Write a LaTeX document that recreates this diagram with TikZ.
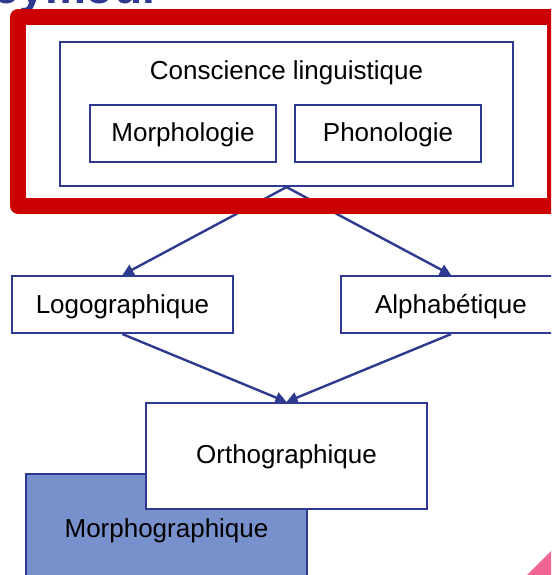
\documentclass[tikz,border=0pt]{standalone}
\usepackage{fontspec}
\setmainfont{Liberation Sans}
\usetikzlibrary{arrows.meta}
\definecolor{dblue}{HTML}{2E3A8F}
\definecolor{rred}{HTML}{CC0000}
\definecolor{mfill}{HTML}{7890CC}
\definecolor{pinkc}{HTML}{F06592}
\begin{document}
\begin{tikzpicture}[x=1pt,y=-1pt,
  box/.style={draw=dblue,line width=2.2pt,fill=white,rectangle,inner sep=0pt},
  lbl/.style={anchor=base,inner sep=0pt,text=black,font=\fontsize{26}{30}\selectfont},
  conn/.style={draw=dblue,line width=2.4pt,-{Triangle[length=11pt,width=11pt]}}]
\useasboundingbox (0,0) rectangle (551,575);
\clip (0,0) rectangle (551,575);
% title fragment
\node[anchor=base west,inner sep=0pt,text=dblue,font=\fontsize{46}{50}\selectfont\bfseries] (title) at (-37,3.5) {Seymour};
% boxes
\node[box,minimum width=453pt,minimum height=144pt] (cl) at (286.5,114) {};
\node[lbl] (cltxt) at (286.5,80) {Conscience linguistique};
\node[box,minimum width=186pt,minimum height=57pt] (mo) at (183,133.5) {};
\node[lbl] (motxt) at (183,142) {Morphologie};
\node[box,minimum width=186pt,minimum height=57pt] (ph) at (388,133.5) {};
\node[lbl] (phtxt) at (388,142) {Phonologie};
\node[box,minimum width=221pt,minimum height=57pt] (lg) at (122.5,304.5) {};
\node[lbl] (lgtxt) at (122.5,313) {Logographique};
\node[box,minimum width=220pt,minimum height=57pt] (al) at (451,304.5) {};
\node[lbl] (altxt) at (451,313) {Alphabétique};
% connectors
\draw[conn] (cl.south) -- (lg.north);
\draw[conn] (cl.south) -- (al.north);
% red frame (drawn over the connectors)
\draw[rred,line width=16pt,line join=round] (18,17.25) rectangle (555,205.5);
% lower boxes
\node[box,fill=mfill,minimum width=281pt,minimum height=106pt] (mg) at (166.5,527) {};
\node[lbl] (mgtxt) at (166.5,537) {Morphographique};
\node[box,minimum width=281pt,minimum height=106pt] (og) at (286.5,456) {};
\node[lbl] (ogtxt) at (286.5,463) {Orthographique};
\draw[conn] (lg.south) -- (og.north);
\draw[conn] (al.south) -- (og.north);
% pink corner
\fill[pinkc] (526,576) -- (552,550) -- (552,576) -- cycle;
\end{tikzpicture}
\end{document}
